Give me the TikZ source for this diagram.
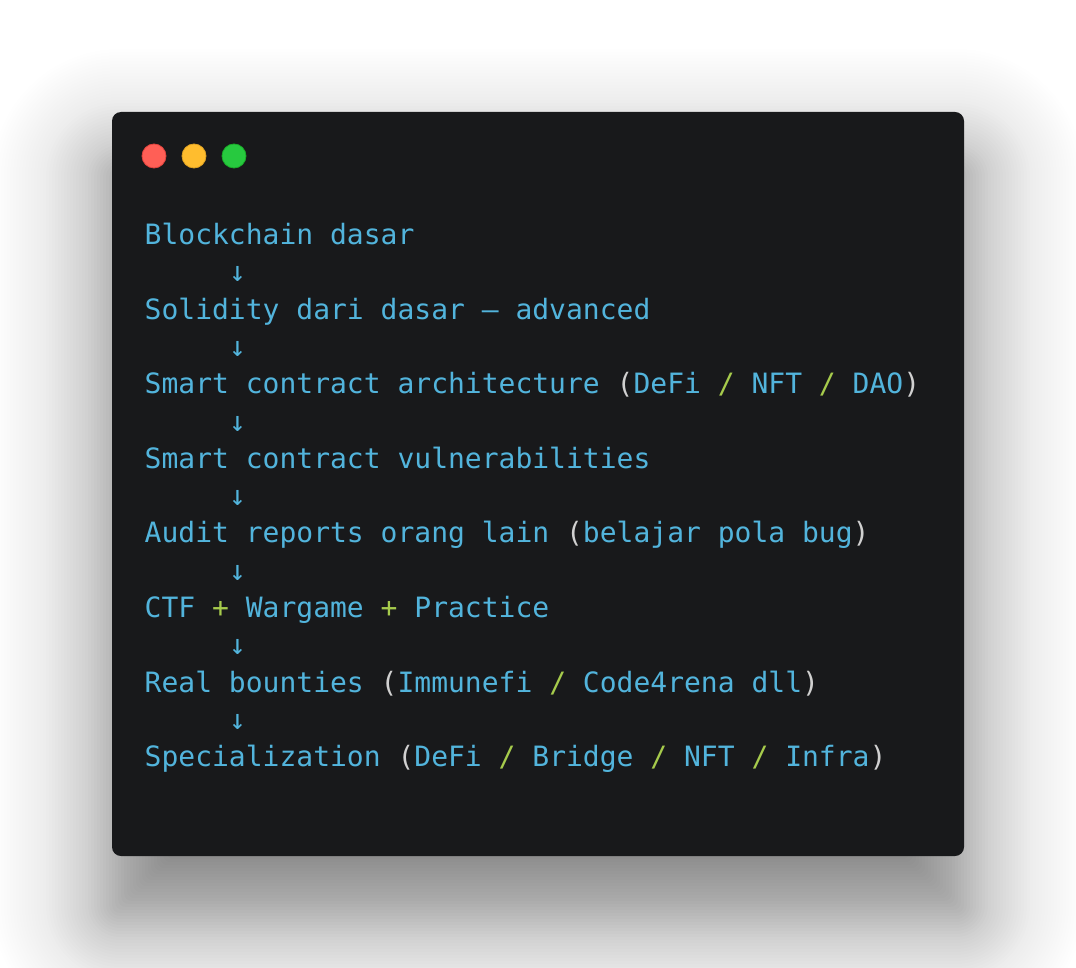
\documentclass[tikz,border=0pt]{standalone}
\usepackage{fontspec}
\newfontfamily\codefont{DejaVu Sans Mono}
\definecolor{winbg}{HTML}{18191B}
\definecolor{codeblue}{HTML}{52B4DC}
\definecolor{codepunc}{HTML}{D0D0D0}
\definecolor{codeop}{HTML}{A6CB4C}
\definecolor{dotred}{HTML}{FF5F56}
\definecolor{dotredrim}{HTML}{E0443E}
\definecolor{dotyel}{HTML}{FFBD2E}
\definecolor{dotyelrim}{HTML}{DEA123}
\definecolor{dotgrn}{HTML}{27C93F}
\definecolor{dotgrnrim}{HTML}{1AAB29}
\newcommand\cpar[1]{\textcolor{codepunc}{#1}}
\newcommand\cop[1]{\textcolor{codeop}{#1}}
\tikzset{
  codeline/.style={anchor=base west, inner sep=0pt, text=codeblue, font=\codefont\fontsize{28}{34}\selectfont},
  windot/.style={circle, minimum size=24pt, inner sep=0pt, line width=0.8pt},
}
\begin{document}
\begin{tikzpicture}[x=1pt,y=-1pt]
\useasboundingbox (0,0) rectangle (1076,968);
\fill[white] (0,0) rectangle (1076,968);
% soft shadow (gaussian approximated by stacked layers)
\foreach \s in {210,207,...,-210}{
  \pgfmathsetmacro\xx{(\s)/71}
  \pgfmathsetmacro\op{1-exp(-3*0.52*0.39894*exp(-(\xx)*(\xx)/2)/71/(1-0.52/(1+exp(1.702*(\xx)))))}
  \pgfmathsetmacro\rr{8+max(\s,0)}
  \fill[black,fill opacity=\op,rounded corners=\rr pt]
    ({112-(\s)},{169-(\s)}) rectangle ({964+(\s)},{913+(\s)});
}
% window
\fill[winbg,rounded corners=9pt] (112,112) rectangle (964,856);
\node[windot,fill=dotred,draw=dotredrim] (r) at (154,156) {};
\node[windot,fill=dotyel,draw=dotyelrim] (y) at (194,156) {};
\node[windot,fill=dotgrn,draw=dotgrnrim] (g) at (234,156) {};
% text
\def\lx{144.5}
\def\ax{228.8}
\node[codeline] (l1) at (\lx,244.5) {Blockchain dasar};
\node[codeline] (a1) at (\ax,281.8) {↓};
\node[codeline] (l2) at (\lx,319.1) {Solidity dari dasar — advanced};
\node[codeline] (a2) at (\ax,356.4) {↓};
\node[codeline] (l3) at (\lx,393.7) {Smart contract architecture \cpar{(}DeFi \cop{/} NFT \cop{/} DAO\cpar{)}};
\node[codeline] (a3) at (\ax,431.0) {↓};
\node[codeline] (l4) at (\lx,468.2) {Smart contract vulnerabilities};
\node[codeline] (a4) at (\ax,505.5) {↓};
\node[codeline] (l5) at (\lx,542.8) {Audit reports orang lain \cpar{(}belajar pola bug\cpar{)}};
\node[codeline] (a5) at (\ax,580.1) {↓};
\node[codeline] (l6) at (\lx,617.4) {CTF \cop{+} Wargame \cop{+} Practice};
\node[codeline] (a6) at (\ax,654.7) {↓};
\node[codeline] (l7) at (\lx,692.0) {Real bounties \cpar{(}Immunefi \cop{/} Code4rena dll\cpar{)}};
\node[codeline] (a7) at (\ax,729.3) {↓};
\node[codeline] (l8) at (\lx,766.6) {Specialization \cpar{(}DeFi \cop{/} Bridge \cop{/} NFT \cop{/} Infra\cpar{)}};
\end{tikzpicture}
\end{document}
